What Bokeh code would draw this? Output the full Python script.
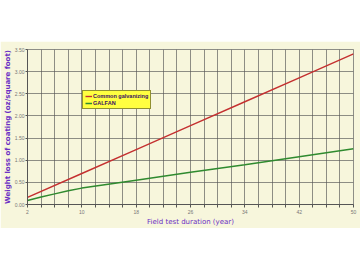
from bokeh.plotting import figure
from bokeh.models import FixedTicker, Legend, LegendItem, Spacer, NumeralTickFormatter, Range1d
from bokeh.layouts import column
from bokeh.embed import file_html
from bokeh.resources import INLINE

# Weight loss of zinc coatings over field exposure time
years = [2, 10, 18, 26, 34, 42, 50]
common_galv = [0.16, 0.70, 1.24, 1.78, 2.32, 2.86, 3.40]
galfan_years = [2, 4, 6, 8, 10, 18, 26, 34, 42, 50]
galfan = [0.09, 0.17, 0.24, 0.31, 0.37, 0.55, 0.73, 0.90, 1.08, 1.26]

x_ticks = [2, 10, 18, 26, 34, 42, 50]
x_minor = [v for v in range(2, 51, 2) if v not in x_ticks]
y_ticks = [0.0, 0.5, 1.0, 1.5, 2.0, 2.5, 3.0, 3.5]

CREAM = "#f7f6dc"
PURPLE = "#6a2fc4"
GRID = "#555555"

p = figure(width=360, height=187, output_backend="svg", toolbar_location=None,
           x_range=Range1d(2, 50), y_range=Range1d(0, 3.5),
           background_fill_color=CREAM, border_fill_color=CREAM,
           min_border_left=26, min_border_right=7, min_border_top=8, min_border_bottom=23)
p.outline_line_color = GRID
p.outline_line_alpha = 0.65

red = p.line(years, common_galv, line_color="#c43030", line_width=1.4)
green = p.line(galfan_years, galfan, line_color="#2f8a2f", line_width=1.5)

# axes
p.xaxis.ticker = FixedTicker(ticks=x_ticks, minor_ticks=x_minor)
p.yaxis.ticker = FixedTicker(ticks=y_ticks)
p.yaxis.formatter = NumeralTickFormatter(format="0.00")
for ax in (p.xaxis[0], p.yaxis[0]):
    ax.axis_line_color = "#555555"
    ax.major_tick_line_color = "#555555"
    ax.minor_tick_line_color = "#555555"
    ax.major_tick_out = 3
    ax.major_tick_in = 0
    ax.minor_tick_out = 3
    ax.minor_tick_in = 0
    ax.major_label_text_font = "Liberation Sans"
    ax.major_label_text_font_size = "5px"
    ax.major_label_text_color = "#777777"
    ax.major_label_standoff = 2
    ax.axis_label_text_font = "DejaVu Sans"
    ax.axis_label_text_color = PURPLE
    ax.axis_label_standoff = 1
p.yaxis.minor_tick_line_color = None
p.yaxis.major_tick_out = 2
p.yaxis.major_label_standoff = 1
p.yaxis.axis_label_standoff = 0
p.xaxis.axis_label = "Field test duration (year)"
p.xaxis.axis_label_text_font_size = "7px"
p.xaxis.axis_label_text_font_style = "normal"
p.yaxis.axis_label = "Weight loss of coating (oz/square foot)"
p.yaxis.axis_label_text_font_size = "7px"
p.yaxis.axis_label_text_font_style = "bold"

# grid
p.xgrid.ticker = FixedTicker(ticks=x_ticks, minor_ticks=x_minor)
p.ygrid.ticker = FixedTicker(ticks=y_ticks)
for g in (p.xgrid[0], p.ygrid[0]):
    g.grid_line_color = GRID
    g.grid_line_alpha = 0.65
    g.grid_line_width = 1
p.xgrid.minor_grid_line_color = GRID
p.xgrid.minor_grid_line_alpha = 0.65

legend = Legend(items=[LegendItem(label="Common galvanizing", renderers=[red]),
                       LegendItem(label="GALFAN", renderers=[green])],
                location=(55, 95))
legend.background_fill_color = "#ffff40"
legend.background_fill_alpha = 1
legend.border_line_color = "#222222"
legend.border_line_width = 1
legend.label_text_font = "Liberation Sans"
legend.label_text_font_size = "5.5px"
legend.label_text_font_style = "bold"
legend.label_text_color = "#3a1060"
legend.glyph_width = 7
legend.glyph_height = 6
legend.label_height = 6
legend.label_standoff = 1
legend.padding = 2
legend.spacing = 1
legend.margin = 0
p.add_layout(legend, "center")

page = column(Spacer(width=360, height=41), p, spacing=0)
open("out.html", "w").write(file_html(page, INLINE))
